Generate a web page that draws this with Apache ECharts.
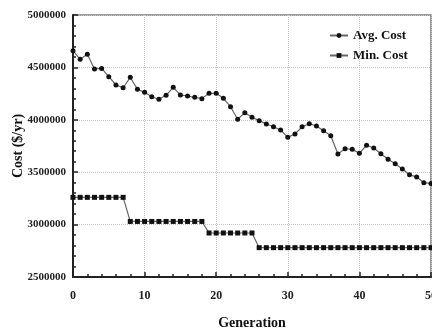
<!DOCTYPE html>
<html>
<head>
<meta charset="utf-8">
<script src="https://cdn.jsdelivr.net/npm/echarts@6/dist/echarts.min.js"></script>
<style>
  html, body { margin: 0; padding: 0; background: #fff; }
  #chart { width: 432px; height: 329px; }
</style>
</head>
<body>
<div id="chart"></div>
<script>
const generations = Array.from({ length: 51 }, (_, i) => i)

const avgCost = [
  4659000, 4577000, 4625000, 4485000, 4490000, 4411000, 4332000, 4306000, 4405000, 4291000,
  4262000, 4220000, 4196000, 4234000, 4310000, 4237000, 4227000, 4215000, 4202000, 4253000,
  4253000, 4205000, 4125000, 4005000, 4068000, 4024000, 3992000, 3960000, 3934000, 3903000,
  3833000, 3864000, 3934000, 3963000, 3941000, 3896000, 3848000, 3674000, 3724000, 3718000,
  3680000, 3757000, 3731000, 3676000, 3623000, 3580000, 3530000, 3475000, 3455000, 3400000,
  3392000
]

const minCost = [
  3260000, 3260000, 3260000, 3260000, 3260000, 3260000, 3260000, 3260000,
  3030000, 3030000, 3030000, 3030000, 3030000, 3030000, 3030000, 3030000, 3030000, 3030000, 3030000,
  2920000, 2920000, 2920000, 2920000, 2920000, 2920000, 2920000,
  2780000, 2780000, 2780000, 2780000, 2780000, 2780000, 2780000, 2780000, 2780000, 2780000,
  2780000, 2780000, 2780000, 2780000, 2780000, 2780000, 2780000, 2780000, 2780000, 2780000,
  2780000, 2780000, 2780000, 2780000, 2780000
]

const FONT = '"Liberation Serif", "Times New Roman", serif'

const chart = echarts.init(document.getElementById('chart'))

const pairs = (ys) => generations.map((g, i) => [g, ys[i]])

const option = {
  animation: false,
  textStyle: { fontFamily: FONT },
  grid: {
    left: 73,
    right: 1,
    top: 15,
    bottom: 52,
    outerBoundsMode: 'none',
    containLabel: false,
    show: true,
    borderColor: '#7a7a7a',
    borderWidth: 1.5,
  },
  legend: {
    orient: 'vertical',
    left: 324,
    top: 24,
    itemWidth: 18,
    itemHeight: 6,
    itemGap: 7,
    textStyle: { fontFamily: FONT, fontWeight: 'bold', fontSize: 13, color: '#111' },
    data: ['Avg. Cost', 'Min. Cost'],
  },
  xAxis: {
    type: 'value',
    min: 0,
    max: 50,
    interval: 10,
    name: 'Generation',
    nameLocation: 'middle',
    nameGap: 39,
    nameMoveOverlap: false,
    nameTextStyle: { fontFamily: FONT, fontWeight: 'bold', fontSize: 14, color: '#111' },
    axisLine: { lineStyle: { color: '#222', width: 2 } },
    axisTick: { inside: true, length: 5, lineStyle: { color: '#222', width: 1.5 } },
    minorTick: { show: true, splitNumber: 5, length: 3, lineStyle: { color: '#222', width: 1.5 } },
    axisLabel: { fontFamily: FONT, fontWeight: 'bold', fontSize: 12, color: '#222', margin: 13 },
    splitLine: { show: true, lineStyle: { color: '#c4c4c4', type: 'dotted', width: 1 } },
  },
  yAxis: {
    type: 'value',
    min: 2500000,
    max: 5000000,
    interval: 500000,
    name: 'Cost ($/yr)',
    nameLocation: 'middle',
    nameGap: 48,
    nameMoveOverlap: false,
    nameTextStyle: { fontFamily: FONT, fontWeight: 'bold', fontSize: 14, color: '#111' },
    axisLine: { show: true, lineStyle: { color: '#222', width: 2 } },
    axisTick: { show: true, inside: true, length: 5, lineStyle: { color: '#222', width: 1.5 } },
    minorTick: { show: true, splitNumber: 5, length: 3, lineStyle: { color: '#222', width: 1.5 } },
    axisLabel: {
      fontFamily: FONT, fontWeight: 'bold', fontSize: 11, color: '#222', margin: 7,
      formatter: (v) => String(v),
    },
    splitLine: { show: true, lineStyle: { color: '#c4c4c4', type: 'dotted', width: 1 } },
  },
  series: [
    {
      name: 'Avg. Cost',
      type: 'line',
      data: pairs(avgCost),
      symbol: 'circle',
      symbolSize: 5,
      lineStyle: { color: '#666', width: 1.2 },
      itemStyle: { color: '#111' },
    },
    {
      name: 'Min. Cost',
      type: 'line',
      data: pairs(minCost),
      symbol: 'rect',
      symbolSize: 5,
      lineStyle: { color: '#666', width: 1.2 },
      itemStyle: { color: '#111' },
    },
  ],
}

chart.setOption(option)
</script>
</body>
</html>
